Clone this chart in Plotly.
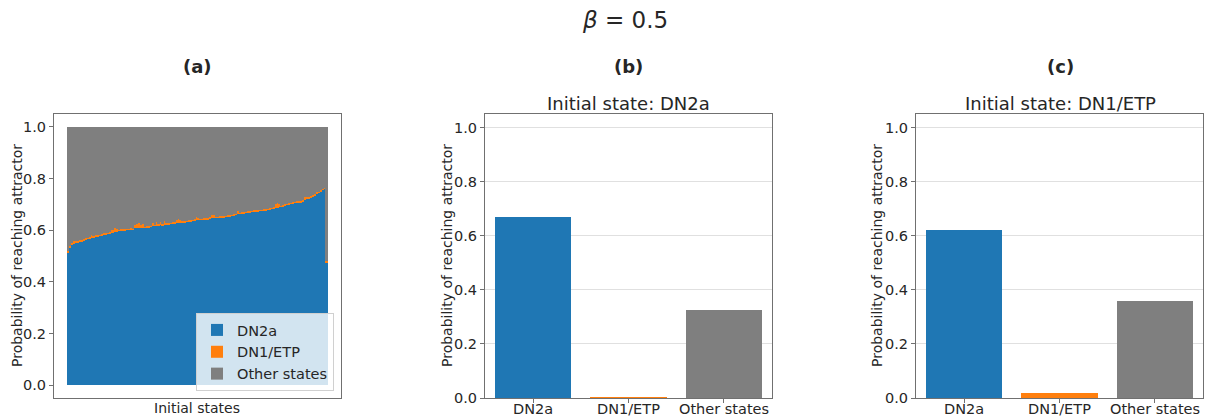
import plotly.graph_objects as go

W, H = 1205, 418

# ---------------- data ----------------
# Panel (a): per initial state, probability of reaching each attractor (sorted by DN2a)
dn2a_a = [
    0.515, 0.532, 0.542, 0.547, 0.550, 0.553, 0.557, 0.558, 0.561, 0.564,
    0.566, 0.567, 0.570, 0.573, 0.576, 0.577, 0.578, 0.581, 0.584, 0.585,
    0.587, 0.588, 0.589, 0.590, 0.592, 0.594, 0.598, 0.599, 0.600, 0.600,
    0.601, 0.601, 0.602, 0.602, 0.607, 0.608, 0.608, 0.609, 0.610, 0.610,
    0.611, 0.612, 0.613, 0.617, 0.618, 0.618, 0.619, 0.620, 0.620, 0.621,
    0.622, 0.623, 0.624, 0.626, 0.627, 0.628, 0.628, 0.629, 0.630, 0.631,
    0.632, 0.633, 0.635, 0.637, 0.638, 0.638, 0.639, 0.640, 0.640, 0.641,
    0.642, 0.643, 0.646, 0.647, 0.647, 0.648, 0.648, 0.649, 0.650, 0.651,
    0.652, 0.653, 0.654, 0.655, 0.658, 0.660, 0.662, 0.663, 0.665, 0.666,
    0.668, 0.669, 0.670, 0.671, 0.672, 0.673, 0.674, 0.675, 0.676, 0.677,
    0.678, 0.679, 0.681, 0.683, 0.684, 0.685, 0.686, 0.688, 0.690, 0.693,
    0.696, 0.698, 0.700, 0.702, 0.704, 0.706, 0.707, 0.708, 0.709, 0.712,
    0.716, 0.720, 0.724, 0.728, 0.731, 0.735, 0.740, 0.745, 0.750, 0.756,
    0.760, 0.475,
]
dn1_a = [
    0.004, 0.006, 0.010, 0.012, 0.008, 0.004, 0.004, 0.005, 0.004, 0.004,
    0.004, 0.005, 0.010, 0.004, 0.004, 0.004, 0.005, 0.004, 0.004, 0.004,
    0.004, 0.005, 0.012, 0.010, 0.015, 0.012, 0.004, 0.004, 0.005, 0.004,
    0.004, 0.004, 0.005, 0.004, 0.012, 0.015, 0.018, 0.010, 0.014, 0.004,
    0.004, 0.005, 0.004, 0.012, 0.004, 0.015, 0.005, 0.010, 0.004, 0.014,
    0.006, 0.004, 0.004, 0.004, 0.005, 0.012, 0.016, 0.010, 0.004, 0.004,
    0.004, 0.005, 0.004, 0.004, 0.004, 0.012, 0.010, 0.004, 0.004, 0.005,
    0.004, 0.004, 0.004, 0.010, 0.010, 0.004, 0.004, 0.005, 0.004, 0.004,
    0.004, 0.004, 0.005, 0.004, 0.004, 0.004, 0.012, 0.004, 0.004, 0.005,
    0.004, 0.004, 0.004, 0.004, 0.005, 0.004, 0.004, 0.004, 0.004, 0.005,
    0.004, 0.004, 0.004, 0.004, 0.005, 0.015, 0.018, 0.012, 0.004, 0.004,
    0.004, 0.005, 0.004, 0.004, 0.004, 0.004, 0.005, 0.004, 0.004, 0.004,
    0.012, 0.010, 0.004, 0.004, 0.004, 0.005, 0.008, 0.004, 0.004, 0.004,
    0.004, 0.005,
]
# remaining probability mass goes to "Other states"
other_a = [round(1.0 - a - b, 4) for a, b in zip(dn2a_a, dn1_a)]
states = list(range(len(dn2a_a)))

categories = ["DN2a", "DN1/ETP", "Other states"]
probs_b = [0.670, 0.003, 0.327]   # initial state DN2a
probs_c = [0.620, 0.020, 0.360]   # initial state DN1/ETP

y_ticks = [0.0, 0.2, 0.4, 0.6, 0.8, 1.0]

# ---------------- style ----------------
C_BLUE, C_ORANGE, C_GREY = "#1f77b4", "#ff7f0e", "#7f7f7f"
FONT = "DejaVu Sans"
TXT = "#262626"
SPINE = "#707070"
TICK_SIZE = 14.5


def fx(px):
    return px / W


def fy(py):
    return 1 - py / H


fig = go.Figure()

for name, vals, col in [("DN2a", dn2a_a, C_BLUE), ("DN1/ETP", dn1_a, C_ORANGE),
                        ("Other states", other_a, C_GREY)]:
    fig.add_trace(go.Bar(x=states, y=vals, name=name, width=1.0,
                         marker=dict(color=col, line=dict(width=0)),
                         xaxis="x", yaxis="y", showlegend=True))

fig.add_trace(go.Bar(x=categories, y=probs_b, width=0.8,
                     marker=dict(color=[C_BLUE, C_ORANGE, C_GREY], line=dict(width=0)),
                     xaxis="x2", yaxis="y2", showlegend=False))
fig.add_trace(go.Bar(x=categories, y=probs_c, width=0.8,
                     marker=dict(color=[C_BLUE, C_ORANGE, C_GREY], line=dict(width=0)),
                     xaxis="x3", yaxis="y3", showlegend=False))

ydom = [fy(398), fy(114)]
common_axis = dict(showline=True, mirror=True, linecolor=SPINE, linewidth=1,
                   ticklen=4, tickcolor=SPINE, automargin=False,
                   tickfont=dict(family=FONT, size=TICK_SIZE, color=TXT), zeroline=False)

n = len(states)
fig.update_layout(
    width=W, height=H, margin=dict(l=0, r=0, t=0, b=0, autoexpand=False),
    paper_bgcolor="white", plot_bgcolor="white",
    barmode="stack", bargap=0,
    font=dict(family=FONT, color=TXT),
    xaxis=dict(domain=[fx(54), fx(341)], range=[-0.5 - 0.05 * n, n - 0.5 + 0.05 * n],
               showticklabels=False, showgrid=False, ticks="", **common_axis),
    yaxis=dict(domain=ydom, range=[-0.05, 1.05], tickvals=y_ticks, tickformat=".1f",
               showgrid=False, ticks="outside", **common_axis),
    xaxis2=dict(domain=[fx(485), fx(772)], type="category", range=[-0.51, 2.51],
                showgrid=False, anchor="y2", ticks="outside", showticklabels=False,
                **common_axis),
    yaxis2=dict(domain=ydom, range=[0, 1.05], tickvals=y_ticks, tickformat=".1f",
                showgrid=True, gridcolor="#e0e0e0", gridwidth=1, anchor="x2",
                ticks="outside", **common_axis),
    xaxis3=dict(domain=[fx(916), fx(1203)], type="category", range=[-0.51, 2.51],
                showgrid=False, anchor="y3", ticks="outside", showticklabels=False,
                **common_axis),
    yaxis3=dict(domain=ydom, range=[0, 1.05], tickvals=y_ticks, tickformat=".1f",
                showgrid=True, gridcolor="#e0e0e0", gridwidth=1, anchor="x3",
                ticks="outside", **common_axis),
    legend=dict(x=fx(334), y=fy(391), xanchor="right", yanchor="bottom",
                bgcolor="rgba(255,255,255,0.8)", bordercolor="#d0d0d0", borderwidth=1,
                font=dict(family=FONT, size=14.5, color=TXT), traceorder="normal",
                tracegroupgap=0),
)

ann = []


def add_text(text, x, y, size, bold=False, angle=0):
    ann.append(dict(text=f"<b>{text}</b>" if bold else text, x=fx(x), y=fy(y),
                    xref="paper", yref="paper", xanchor="center", yanchor="middle",
                    showarrow=False, textangle=angle,
                    font=dict(family=FONT, size=size, color=TXT)))


add_text("<i>β</i> = 0.5", 625, 20, 23)
add_text("(a)", 197, 66, 18, bold=True)
add_text("(b)", 628, 66, 18, bold=True)
add_text("(c)", 1060, 66, 18, bold=True)
add_text("Initial state: DN2a", 628, 104, 18)
add_text("Initial state: DN1/ETP", 1060, 104, 18)
add_text("Probability of reaching attractor", 17, 256, 14, angle=-90)
add_text("Probability of reaching attractor", 447, 256, 14, angle=-90)
add_text("Probability of reaching attractor", 877, 256, 14, angle=-90)
add_text("Initial states", 197, 408, 14)

# category tick labels for panels (b) and (c), placed on the category axes
for xr in ("x2", "x3"):
    for cat in categories:
        ann.append(dict(text=cat, x=cat, xref=xr, y=fy(409), yref="paper",
                        xanchor="center", yanchor="middle", showarrow=False,
                        font=dict(family=FONT, size=TICK_SIZE, color=TXT)))

fig.update_layout(annotations=ann)

fig.write_html("out.html")
